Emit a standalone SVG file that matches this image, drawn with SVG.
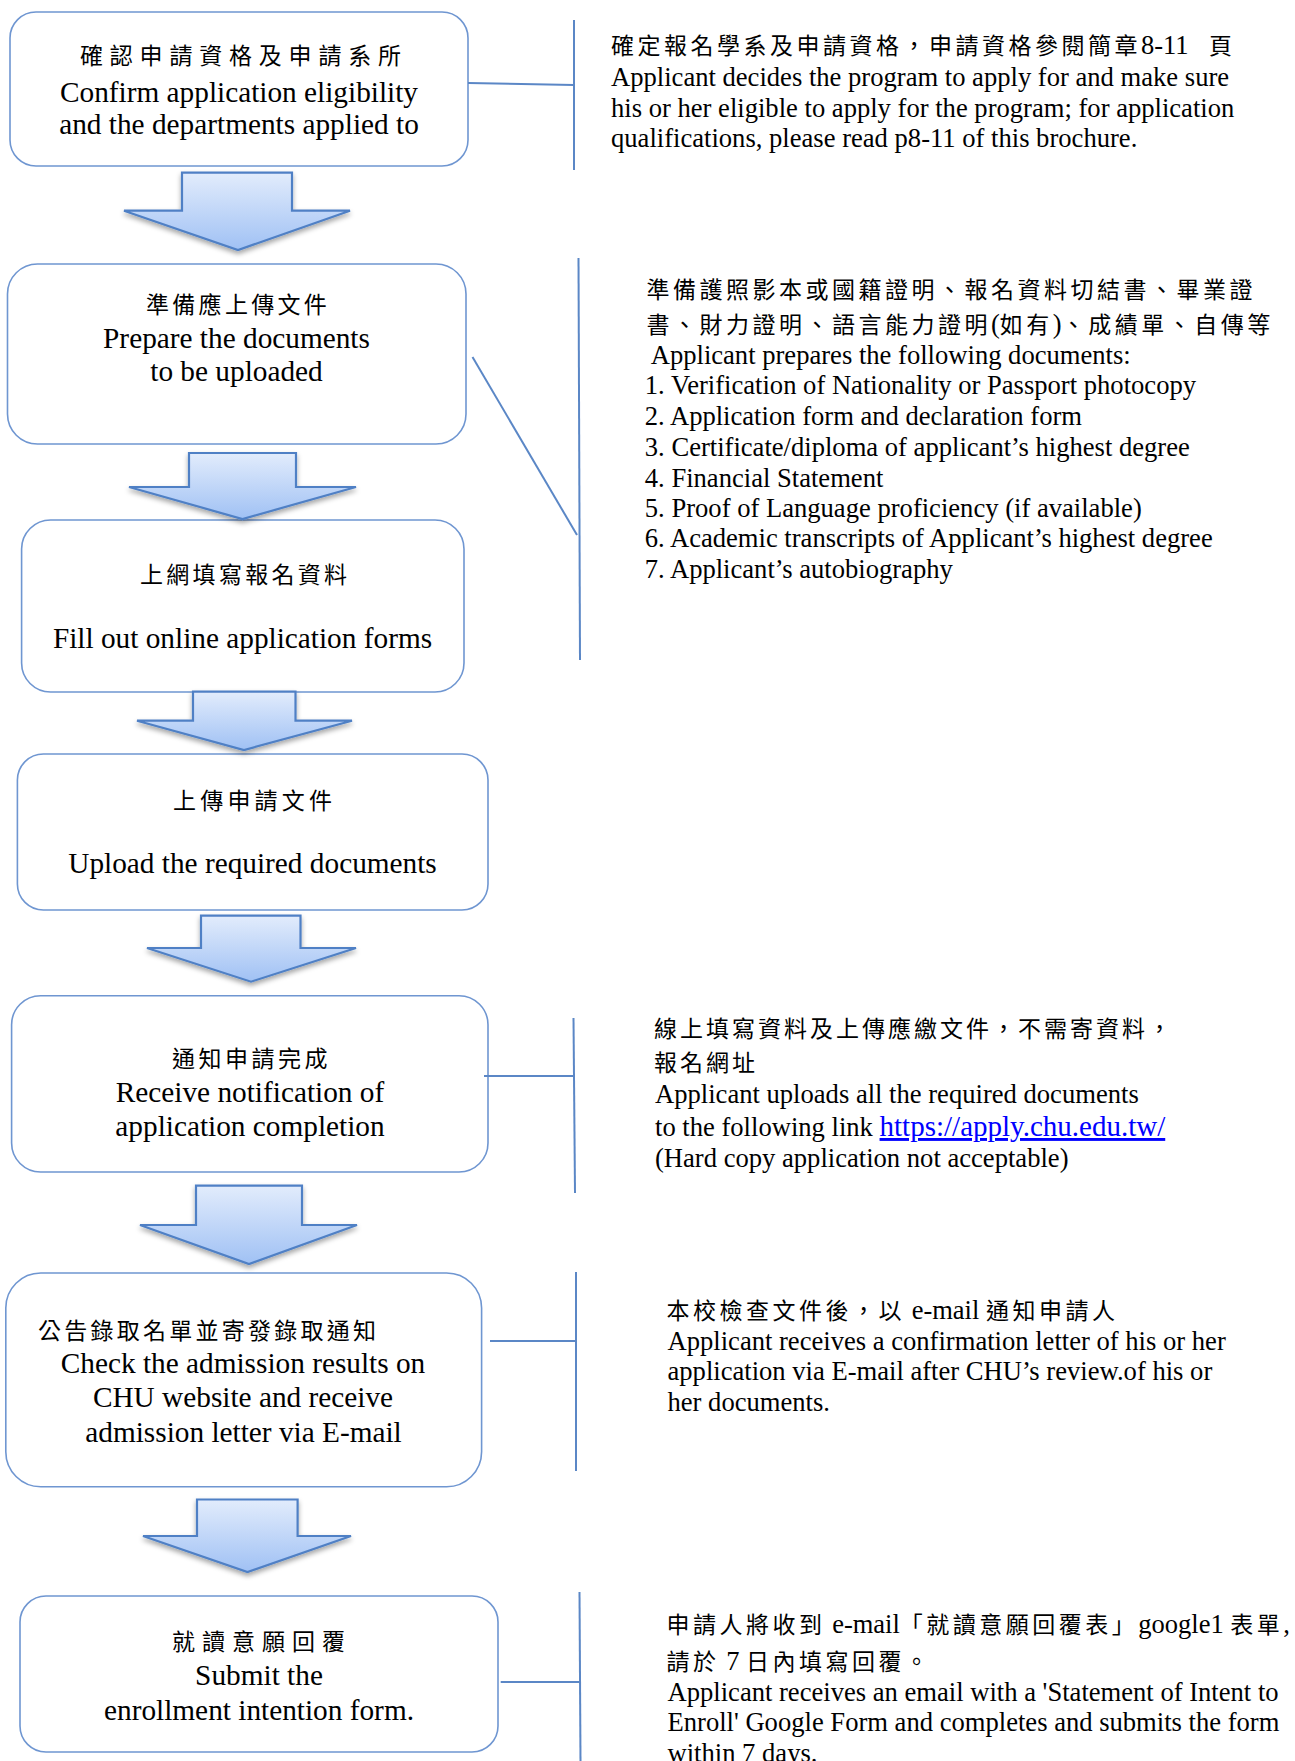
<svg xmlns="http://www.w3.org/2000/svg" width="1295" height="1761" viewBox="0 0 1295 1761">
<style>
.box{fill:#fff;stroke:#6f96d1;stroke-width:1.6}
.arrow{fill:url(#ag);stroke:#5080c5;stroke-width:2.2;stroke-linejoin:miter;filter:url(#sh)}
.conn{stroke:#5b87c6;stroke-width:2;fill:none}
.en{font-family:"Liberation Serif","Times New Roman",serif;font-size:29.3px;fill:#000}
.mid{text-anchor:middle}
.rt{font-family:"Liberation Serif","Times New Roman",serif;font-size:26.6px;fill:#000}
.cjk{font-family:"Noto Sans CJK TC","Noto Sans CJK SC",sans-serif;font-size:23px;fill:#000}
.lat{font-family:"Liberation Serif","Times New Roman",serif;font-size:26.5px;letter-spacing:0}
.link{fill:#0000ff;text-decoration:underline;font-size:29px}
</style>
<defs>
<linearGradient id="ag" x1="0" y1="0" x2="0" y2="1">
<stop offset="0" stop-color="#e2ecfc"/>
<stop offset="1" stop-color="#a0c1f4"/>
</linearGradient>
<filter id="sh" x="-10%" y="-10%" width="120%" height="130%">
<feDropShadow dx="0" dy="3" stdDeviation="2.5" flood-color="#000" flood-opacity="0.35"/>
</filter>
</defs>
<rect width="1295" height="1761" fill="#fff"/>

<g id="node1">
<rect class="box" x="10" y="12" width="458" height="154" rx="26"/>
<text class="cjk" x="80" y="63.5" style="letter-spacing:6.8px">確認申請資格及申請系所</text>
<text class="en mid" x="239" y="102">Confirm application eligibility</text>
<text class="en mid" x="239" y="134">and the departments applied to</text>
</g>
<g id="node2">
<rect class="box" x="7.5" y="264" width="458.5" height="180" rx="30"/>
<text class="cjk" x="146" y="313" style="letter-spacing:3.3px">準備應上傳文件</text>
<text class="en mid" x="236.5" y="348">Prepare the documents</text>
<text class="en mid" x="236.5" y="381">to be uploaded</text>
</g>
<g id="node3">
<rect class="box" x="21.6" y="520" width="442.4" height="172" rx="29"/>
<text class="cjk" x="140" y="583" style="letter-spacing:3.3px">上網填寫報名資料</text>
<text class="en mid" x="242.5" y="648">Fill out online application forms</text>
</g>
<g id="node4">
<rect class="box" x="17.4" y="754" width="470.6" height="156" rx="26"/>
<text class="cjk" x="173" y="809" style="letter-spacing:4.2px">上傳申請文件</text>
<text class="en mid" x="252.5" y="873">Upload the required documents</text>
</g>
<g id="node5">
<rect class="box" x="11.6" y="995.7" width="476.4" height="176.3" rx="29"/>
<text class="cjk" x="172" y="1067" style="letter-spacing:3.5px">通知申請完成</text>
<text class="en mid" x="250" y="1102">Receive notification of</text>
<text class="en mid" x="250" y="1136">application completion</text>
</g>
<g id="node6">
<rect class="box" x="5.8" y="1273" width="475.8" height="213.7" rx="35"/>
<text class="cjk" x="38" y="1339" style="letter-spacing:3.25px">公告錄取名單並寄發錄取通知</text>
<text class="en mid" x="243" y="1373">Check the admission results on</text>
<text class="en mid" x="243" y="1407">CHU website and receive</text>
<text class="en mid" x="243.5" y="1442">admission letter via E-mail</text>
</g>
<g id="node7">
<rect class="box" x="20" y="1596" width="478" height="156" rx="26"/>
<text class="cjk" x="172" y="1650" style="letter-spacing:7px">就讀意願回覆</text>
<text class="en mid" x="259" y="1685">Submit the</text>
<text class="en mid" x="259" y="1720">enrollment intention form.</text>
</g>

<g id="note1">
<text class="cjk" x="611" y="54" style="letter-spacing:3.5px">確定報名學系及申請資格，申請資格參閱簡章<tspan class="lat">8-11</tspan><tspan x="1209">頁</tspan></text>
<text class="rt" x="611" y="86">Applicant decides the program to apply for and make sure</text>
<text class="rt" x="611" y="116.5">his or her eligible to apply for the program; for application</text>
<text class="rt" x="611" y="147">qualifications, please read p8-11 of this brochure.</text>
</g>
<g id="note2">
<text class="cjk" x="646.5" y="297.5" style="letter-spacing:3.5px">準備護照影本或國籍證明、報名資料切結書、畢業證</text>
<text class="cjk" x="646.5" y="332.5" style="letter-spacing:3.5px">書、財力證明、語言能力證明<tspan class="lat">(</tspan>如有<tspan class="lat">)</tspan>、成績單、自傳等</text>
<text class="rt" x="650.7" y="364">Applicant prepares the following documents:</text>
<text class="rt" x="644.8" y="394">1. Verification of Nationality or Passport photocopy</text>
<text class="rt" x="644.8" y="425">2. Application form and declaration form</text>
<text class="rt" x="644.8" y="455.5">3. Certificate/diploma of applicant’s highest degree</text>
<text class="rt" x="644.8" y="486.5">4. Financial Statement</text>
<text class="rt" x="644.8" y="516.5">5. Proof of Language proficiency (if available)</text>
<text class="rt" x="644.8" y="547">6. Academic transcripts of Applicant’s highest degree</text>
<text class="rt" x="644.8" y="578">7. Applicant’s autobiography</text>
</g>
<g id="note5">
<text class="cjk" x="654" y="1037" style="letter-spacing:3px">線上填寫資料及上傳應繳文件，不需寄資料，</text>
<text class="cjk" x="654" y="1071" style="letter-spacing:3px">報名網址</text>
<text class="rt" x="655" y="1103">Applicant uploads all the required documents</text>
<text class="rt" x="655" y="1136">to the following link <tspan class="link">https://apply.chu.edu.tw/</tspan></text>
<text class="rt" x="655" y="1167">(Hard copy application not acceptable)</text>
</g>
<g id="note6">
<text class="cjk" x="666.5" y="1319" style="letter-spacing:3.5px">本校檢查文件後，以<tspan class="lat"> e-mail </tspan>通知申請人</text>
<text class="rt" x="667.5" y="1349.5">Applicant receives a confirmation letter of his or her</text>
<text class="rt" x="667.5" y="1380">application via E-mail after CHU’s review.of his or</text>
<text class="rt" x="667.5" y="1411">her documents.</text>
</g>
<g id="note7">
<text class="cjk" x="666.5" y="1632.5" style="letter-spacing:3.5px">申請人將收到<tspan class="lat"> e-mail</tspan>「就讀意願回覆表」<tspan class="lat">google1 </tspan>表單<tspan class="lat">,</tspan></text>
<text class="cjk" x="666.5" y="1669.5" style="letter-spacing:3.5px">請於<tspan class="lat"> 7 </tspan>日內填寫回覆。</text>
<text class="rt" x="667.5" y="1700.5">Applicant receives an email with a 'Statement of Intent to</text>
<text class="rt" x="667.5" y="1731">Enroll' Google Form and completes and submits the form</text>
<text class="rt" x="667.5" y="1762">within 7 days.</text>
</g>

<g id="connectors">
<line class="conn" x1="468" y1="83" x2="574" y2="85"/>
<line class="conn" x1="574" y1="20" x2="574" y2="170"/>
<line class="conn" x1="472.5" y1="357" x2="577" y2="535"/>
<line class="conn" x1="578.5" y1="258" x2="580" y2="660"/>
<line class="conn" x1="484" y1="1076" x2="574" y2="1076"/>
<line class="conn" x1="573.5" y1="1018" x2="575" y2="1193"/>
<line class="conn" x1="490" y1="1341" x2="576" y2="1341"/>
<line class="conn" x1="576" y1="1272" x2="576" y2="1471"/>
<line class="conn" x1="500.7" y1="1682" x2="579" y2="1682"/>
<line class="conn" x1="579.5" y1="1592" x2="580.5" y2="1761"/>
</g>

<g id="arrows">
<path class="arrow" d="M182,172.7 L292,172.7 L292,210.7 L350,210.7 L238,250 L124,210.7 L182,210.7 Z"/>
<path class="arrow" d="M189,453 L296,453 L296,487 L356,487 L242.5,519 L129,487 L189,487 Z"/>
<path class="arrow" d="M193,691.7 L295.5,691.7 L295.5,720.7 L352,720.7 L244,750 L137,720.7 L193,720.7 Z"/>
<path class="arrow" d="M201,915.7 L300.5,915.7 L300.5,948 L356,948 L251,981.7 L147,948 L201,948 Z"/>
<path class="arrow" d="M196,1185.7 L302,1185.7 L302,1225 L357,1225 L249,1264 L140,1225 L196,1225 Z"/>
<path class="arrow" d="M197,1499.5 L297.6,1499.5 L297.6,1536 L351,1536 L247.5,1572 L143,1536 L197,1536 Z"/>
</g>
</svg>
